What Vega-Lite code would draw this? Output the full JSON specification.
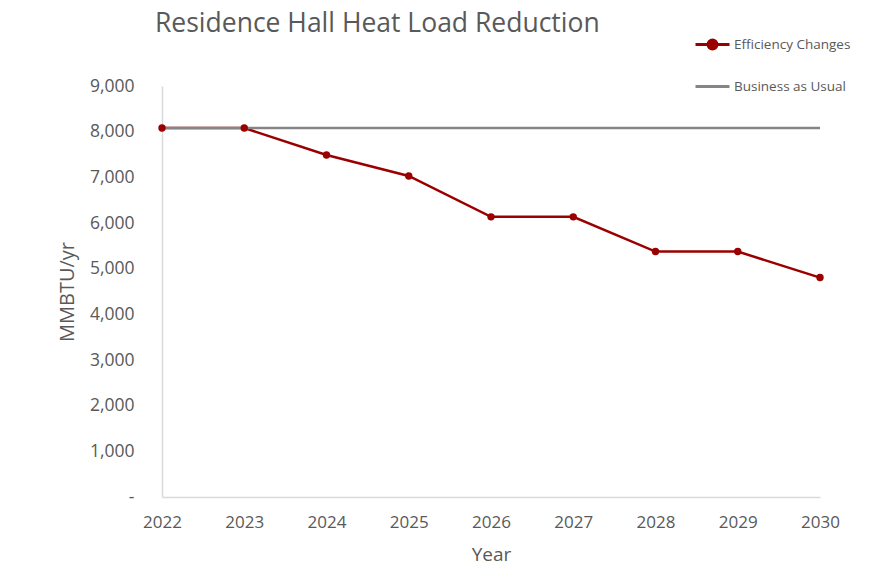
{
  "$schema": "https://vega.github.io/schema/vega-lite/v6.json",
  "width": 658,
  "height": 411,
  "autosize": {"type": "none"},
  "padding": {"left": 162, "top": 86, "right": 50, "bottom": 72},
  "background": "white",
  "title": {
    "text": "Residence Hall Heat Load Reduction",
    "anchor": "start",
    "frame": "group",
    "dx": -7,
    "dy": 37,
    "offset": 5,
    "baseline": "alphabetic",
    "font": "Open Sans",
    "fontSize": 26.5,
    "fontWeight": "normal",
    "color": "#595959"
  },
  "config": {
    "view": {"stroke": null},
    "font": "Open Sans"
  },
  "data": {
    "values": [
      {"year": "2022", "series": "Efficiency Changes", "value": 8080},
      {"year": "2023", "series": "Efficiency Changes", "value": 8080},
      {"year": "2024", "series": "Efficiency Changes", "value": 7490},
      {"year": "2025", "series": "Efficiency Changes", "value": 7030},
      {"year": "2026", "series": "Efficiency Changes", "value": 6135},
      {"year": "2027", "series": "Efficiency Changes", "value": 6135},
      {"year": "2028", "series": "Efficiency Changes", "value": 5375},
      {"year": "2029", "series": "Efficiency Changes", "value": 5375},
      {"year": "2030", "series": "Efficiency Changes", "value": 4805},
      {"year": "2022", "series": "Business as Usual", "value": 8080},
      {"year": "2023", "series": "Business as Usual", "value": 8080},
      {"year": "2024", "series": "Business as Usual", "value": 8080},
      {"year": "2025", "series": "Business as Usual", "value": 8080},
      {"year": "2026", "series": "Business as Usual", "value": 8080},
      {"year": "2027", "series": "Business as Usual", "value": 8080},
      {"year": "2028", "series": "Business as Usual", "value": 8080},
      {"year": "2029", "series": "Business as Usual", "value": 8080},
      {"year": "2030", "series": "Business as Usual", "value": 8080}
    ]
  },
  "encoding": {
    "x": {
      "field": "year",
      "type": "ordinal",
      "scale": {"type": "point", "padding": 0},
      "axis": {
        "title": "Year",
        "titleFontSize": 19,
        "titleFontWeight": "normal",
        "titleColor": "#595959",
        "titlePadding": 15,
        "labelAngle": 0,
        "labelFontSize": 17,
        "labelColor": "#595959",
        "labelPadding": 17,
        "ticks": false,
        "domainColor": "#d9d9d9",
        "domainWidth": 1.5,
        "grid": false
      }
    },
    "y": {
      "field": "value",
      "type": "quantitative",
      "scale": {"domain": [0, 9000], "nice": false},
      "axis": {
        "title": "MMBTU/yr",
        "titleFontSize": 20,
        "titleFontWeight": "normal",
        "titleColor": "#595959",
        "titlePadding": 12,
        "values": [0, 1000, 2000, 3000, 4000, 5000, 6000, 7000, 8000, 9000],
        "format": ",d",
        "labelExpr": "datum.value == 0 ? '-' : datum.label",
        "labelFontSize": 17.5,
        "labelColor": "#595959",
        "labelPadding": 28,
        "ticks": false,
        "domainColor": "#d9d9d9",
        "domainWidth": 1.5,
        "grid": false
      }
    },
    "color": {
      "field": "series",
      "type": "nominal",
      "scale": {
        "domain": ["Efficiency Changes", "Business as Usual"],
        "range": ["#9b0000", "#858585"]
      },
      "legend": {
        "title": null,
        "orient": "none",
        "legendX": 532,
        "legendY": -60,
        "rowPadding": 13,
        "labelFontSize": 13.5,
        "labelColor": "#595959",
        "labelOffset": 3,
        "symbolSize": 1156,
        "symbolStrokeWidth": 3,
        "symbolType": "stroke",
        "encode": {
          "symbols": {
            "update": {
              "shape": {"signal": "datum.label == 'Efficiency Changes' ? 'M-1,0H1M0.26,0A0.26,0.26 0 1,1 -0.26,0A0.26,0.26 0 1,1 0.26,0Z' : 'M-1,0H1'"},
              "fill": {"signal": "datum.label == 'Efficiency Changes' ? '#9b0000' : 'transparent'"}
            }
          }
        }
      }
    }
  },
  "layer": [
    {
      "mark": {"type": "line", "strokeWidth": 2.5},
      "encoding": {"detail": {"field": "series"}}
    },
    {
      "transform": [{"filter": "datum.series == 'Efficiency Changes'"}],
      "mark": {"type": "point", "filled": true, "size": 55, "opacity": 1, "color": "#9b0000"}
    }
  ]
}
